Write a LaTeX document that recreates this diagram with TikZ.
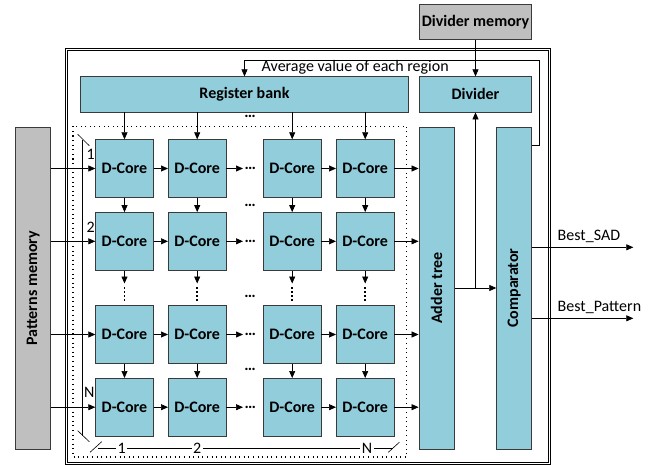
\documentclass[tikz,border=0pt]{standalone}
\usepackage{fontspec}
\setmainfont{Carlito}
\usetikzlibrary{arrows.meta}
\definecolor{aqua}{HTML}{92CDDC}
\definecolor{memgray}{HTML}{BFBFBF}
\definecolor{edge}{HTML}{3A3A3A}
\begin{document}
\begin{tikzpicture}[x=1pt,y=-1pt,font=\fontsize{16}{19}\selectfont,
  box/.style={draw=edge, line width=0.8pt, fill=aqua, font=\fontsize{16}{19}\selectfont\bfseries, inner sep=0pt},
  core/.style={box, minimum width=57.6pt, minimum height=57.6pt},
  mem/.style={draw=edge, line width=0.8pt, fill=memgray, font=\fontsize{16}{19}\selectfont\bfseries, inner sep=0pt},
  arr/.style={-{Triangle[length=7pt,width=6pt]}, line width=0.7pt},
  ln/.style={line width=0.7pt},
  thin/.style={line width=0.6pt},
  dotbox/.style={line width=1.1pt, dash pattern=on 1.1pt off 3.5pt},
  vdot/.style={line width=1.8pt, dash pattern=on 1.8pt off 2.2pt},
  hdots/.style={font=\fontsize{16}{19}\selectfont\bfseries, inner sep=1.5pt},
  lbl/.style={inner sep=0.5pt}]
\useasboundingbox (0,0) rectangle (655,465);

% outer double frame
\draw[ln] (65,48) rectangle (550,464);
\draw[ln] (67,50) rectangle (548,462);

% dotted array frame
\draw[dotbox] (73,126.3) rectangle (406.7,457);

% memories and blocks
\node[mem, minimum width=112.4pt, minimum height=35.4pt] (dmem) at (475.5,22) {Divider memory};
\node[box, minimum width=112.4pt, minimum height=35.3pt] (div) at (475.5,94.4) {Divider};
\node[box, minimum width=328.4pt, minimum height=35.3pt] (reg) at (244.5,94.4) {Register bank};
\node[mem, minimum width=35pt, minimum height=322.3pt] (pm) at (33.2,288.2) {};
\node[rotate=90, font=\fontsize{16}{19}\selectfont\bfseries] (pmt) at (pm.center) {Patterns memory};
\node[box, minimum width=35.3pt, minimum height=322pt] (adder) at (436.6,288) {};
\node[rotate=90, font=\fontsize{16}{19}\selectfont\bfseries] (addert) at (adder.center) {Adder tree};
\node[box, minimum width=35pt, minimum height=322pt] (comp) at (514.2,288) {};
\node[rotate=90, font=\fontsize{16}{19}\selectfont\bfseries] (compt) at (comp.center) {Comparator};

% D-Core grid
\foreach \c/\x in {1/124.5,2/197.2,3/292.2,4/365.2}
  \foreach \r/\y in {1/168.5,2/241.3,3/334.5,4/407.2}
    \node[core] (d\r\c) at (\x,\y) {D-Core};

% horizontal connections
\foreach \r in {1,...,4} {
  \draw[arr] (pm.east |- d\r1.west) -- (d\r1.west);
  \draw[arr] (d\r1) -- (d\r2);
  \path (d\r2.east) ++(24,0) node[hdots] (hd\r) {\ldots};
  \draw[arr] (d\r2.east) -- (hd\r.west);
  \draw[arr] (d\r3) -- (d\r4);
  \draw[arr] (d\r4.east) -- (d\r4.east -| adder.west);
}

% vertical connections
\foreach \c in {1,...,4} {
  \draw[arr] (reg.south -| d1\c) -- (d1\c);
  \draw[arr] (d1\c) -- (d2\c);
  \draw[arr] (d2\c.south) -- ++(0,13) coordinate (va\c);
  \draw[vdot] (va\c) ++(0,3.5) -- ++(0,14);
  \draw[arr] (d3\c) -- (d4\c);
}

% between-row ellipses
\node[hdots] (vd0) at (250,116.7) {\ldots};
\node[hdots] (vd1) at (250,205.5) {\ldots};
\node[hdots] (vd2) at (250,296.5) {\ldots};
\node[hdots] (vd3) at (250,369.5) {\ldots};

% row index bracket
\draw[thin] (82.7,140) -- (82.7,436);
\draw[thin] (77.7,134.3) -- (89.3,145.7);
\draw[thin] (77.7,430.7) -- (89.3,441.7);
\node[lbl] (r1) at (90.7,154) {1};
\node[lbl] (r2) at (90.7,227.7) {2};
\node[lbl] (rN) at (89.3,392.7) {N};

% column index bracket
\draw[thin] (98,448.5) -- (393,448.5);
\draw[thin] (90,452.3) -- (101.7,441.7);
\draw[thin] (388.3,452.3) -- (399.3,442.3);
\node[lbl, fill=white, inner xsep=1.5pt] (c1) at (121.7,448.5) {1};
\node[lbl, fill=white, inner xsep=1.5pt] (c2) at (197.3,448.5) {2};
\node[lbl, fill=white, inner xsep=1.5pt] (cN) at (367,448.5) {N};

% adder -> comparator, branch to divider
\draw[arr] (adder.east) -- (comp.west);
\coordinate (br) at (div.south |- adder.east);
\draw[arr] (br) -- (div.south);
\draw[arr] (dmem.south) -- (div.north);

% feedback
\coordinate (fb0) at (comp.east |- 0,145);
\coordinate (fb1) at (539.3,145);
\coordinate (fb2) at (539.3,60.3);
\coordinate (fb3) at (reg.north |- fb2);
\draw[arr] (fb0) -- (fb1) -- (fb2) -- (fb3) -- (reg.north);
\node[lbl, anchor=west] (avg) at (261,67.5) {Average value of each region};

% outputs
\coordinate (sadend) at (633.3,247.3);
\coordinate (patend) at (633.3,318.3);
\draw[arr] (comp.east |- sadend) -- (sadend);
\draw[arr] (comp.east |- patend) -- (patend);
\node[lbl, anchor=south west] (sad) at (557,243.5) {Best\_SAD};
\node[lbl, anchor=south west] (pat) at (557,314.5) {Best\_Pattern};
\end{tikzpicture}
\end{document}
